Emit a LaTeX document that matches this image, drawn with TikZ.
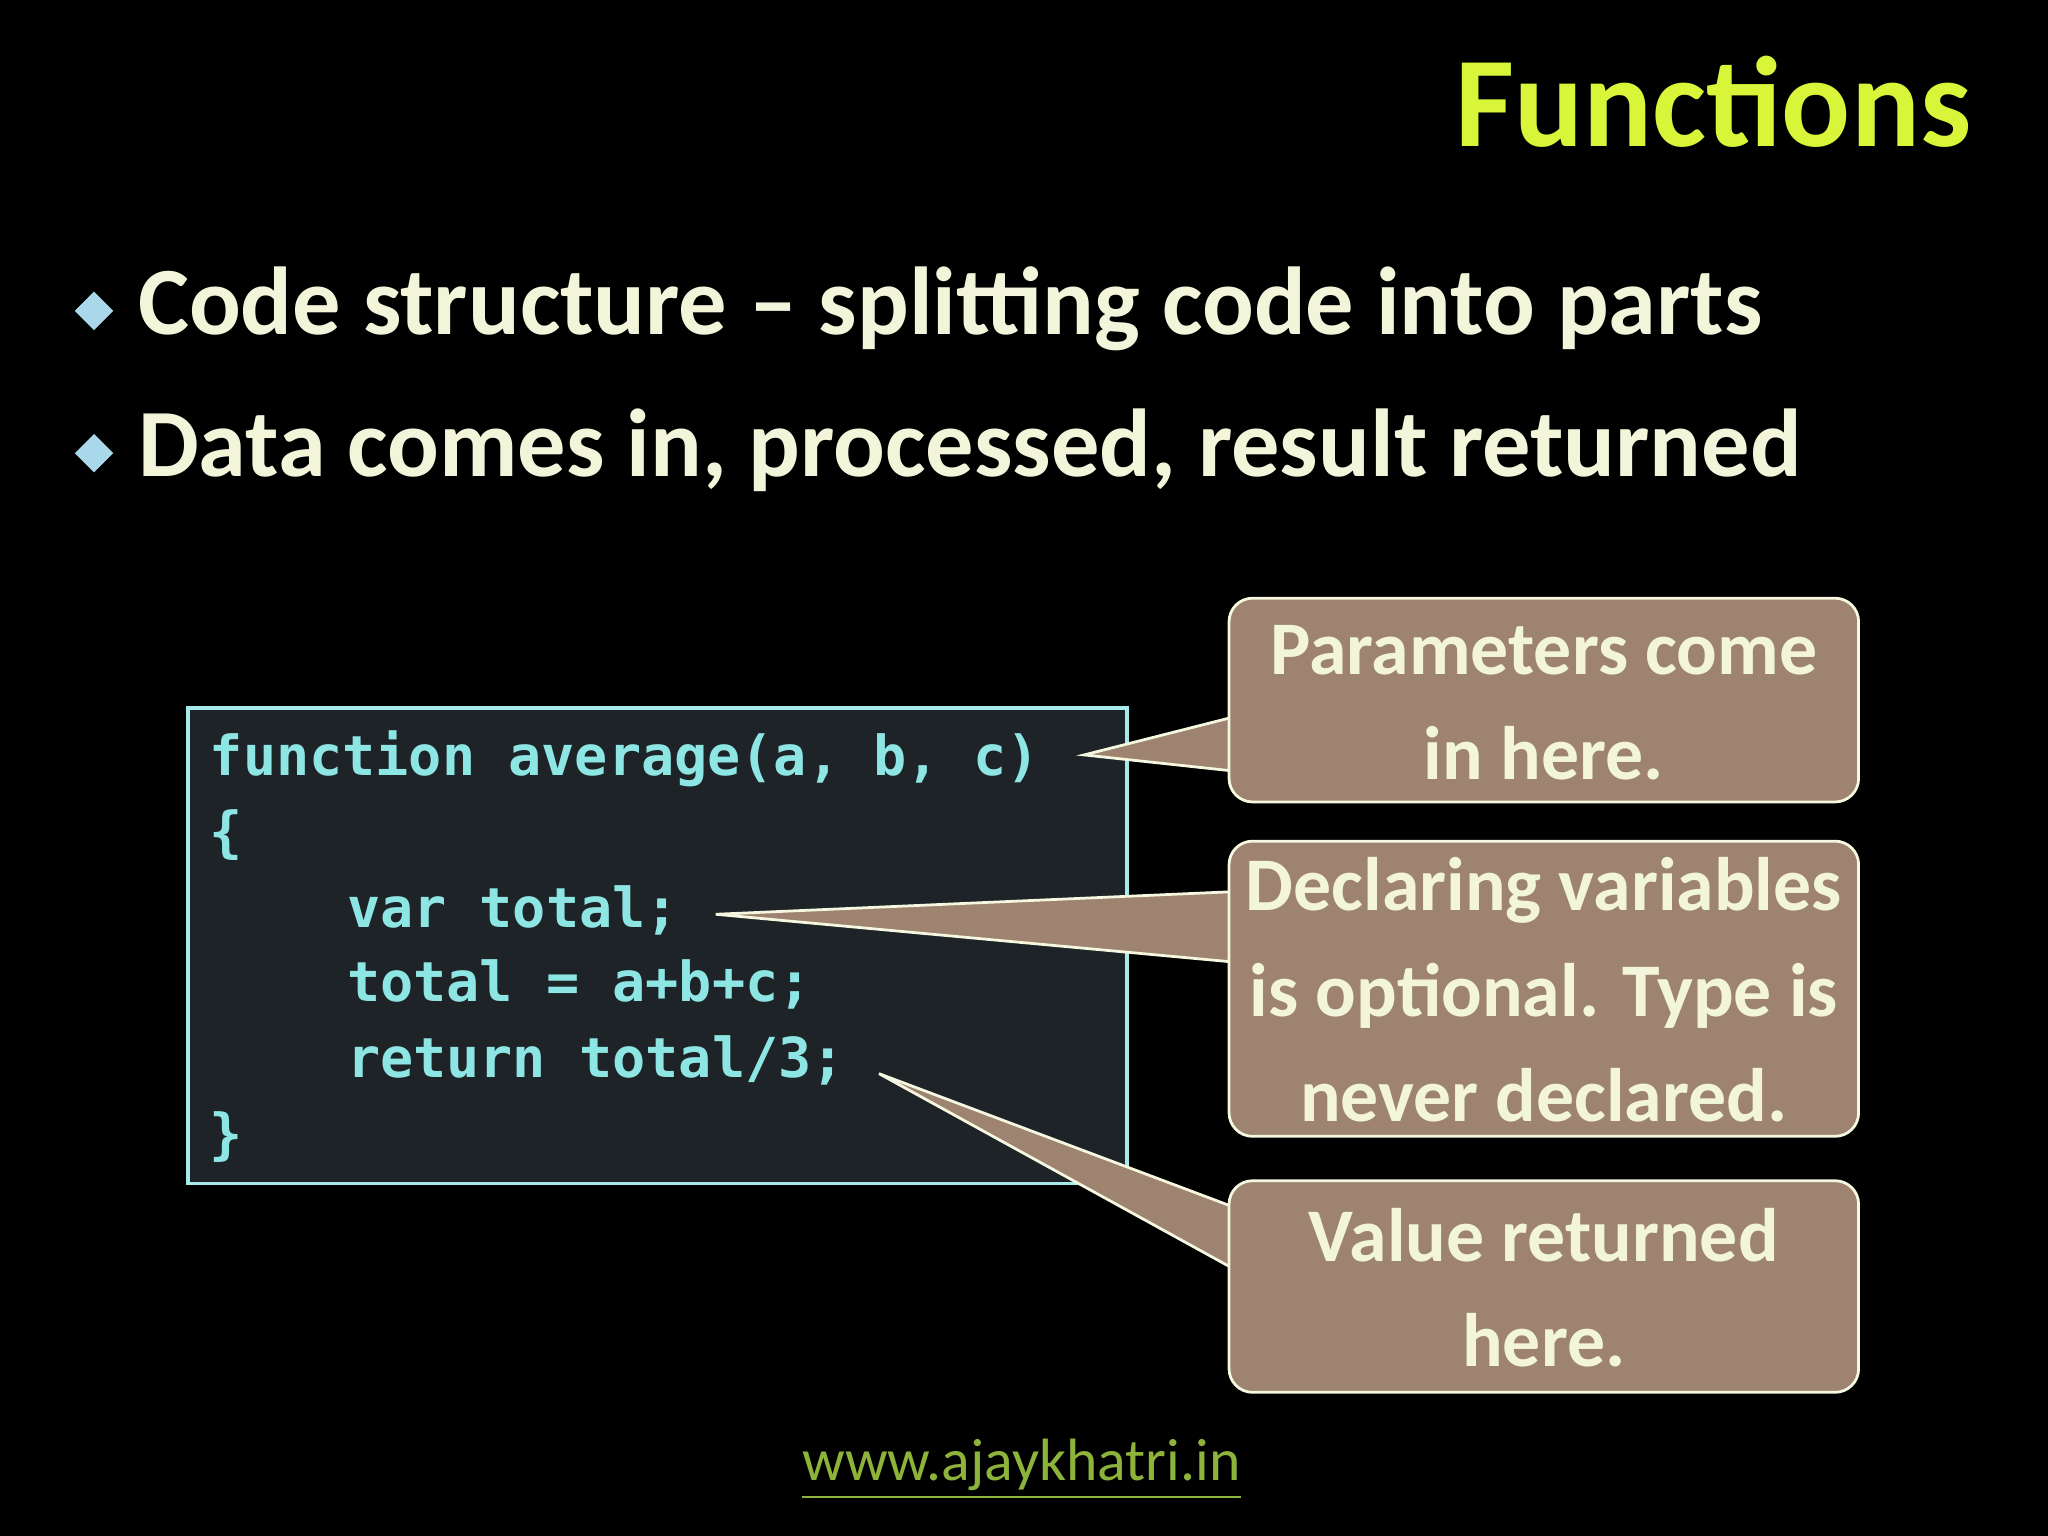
\documentclass[tikz,border=0pt]{standalone}
\usepackage{fontspec}
\setmainfont{Carlito}
\setmonofont{DejaVu Sans Mono}
\usetikzlibrary{positioning,shapes.geometric}
\definecolor{titlecol}{HTML}{D8F53A}
\definecolor{textcol}{HTML}{F2F5DA}
\definecolor{bulletcol}{HTML}{A8D8EA}
\definecolor{codecol}{HTML}{8EE6E4}
\definecolor{codebg}{HTML}{1D2326}
\definecolor{callfill}{HTML}{9E8470}
\definecolor{linkcol}{HTML}{8DB33A}
\begin{document}
\begin{tikzpicture}[x=0.01cm,y=-0.01cm]
	\tikzset{bulletmark/.style={diamond,fill=bulletcol,inner sep=0pt,minimum size=20pt*0.01/0.0352},
		bullettext/.style={anchor=base west,text=textcol,font=\fontsize{21}{24}\selectfont\bfseries,inner sep=0pt},
		codeline/.style={anchor=base west,text=codecol,font=\fontsize{12}{14}\selectfont\ttfamily\bfseries,inner sep=0pt},
		callbox/.style={draw=textcol!80,line width=0.6pt,fill=callfill,rounded corners=18pt*0.01/0.0352},
		calltext/.style={text=textcol,font=\fontsize{16.5}{23}\selectfont\bfseries,align=center},}
	\fill[black] (0,0) rectangle (1568,1176);
	\useasboundingbox (0,0) rectangle (1568,1176);
	
	% title and bullets
	\node[anchor=base east,text=titlecol,font=\fontsize{28}{30}\selectfont\bfseries,inner sep=0pt] (title) at (1510,112) {Functions};
	\node[diamond,fill=bulletcol,inner sep=0pt,minimum size=0.3cm] (b1) at (72,238) {};
	\node[bullettext] (t1) at (105,256) {Code structure -- splitting code into parts};
	\node[diamond,fill=bulletcol,inner sep=0pt,minimum size=0.3cm] (b2) at (72,347) {};
	\node[bullettext] (t2) at (105,365) {Data comes in, processed, result returned};
	
	% code box
	\draw[draw=codecol!80,line width=0.8pt,fill=codebg] (144,542) rectangle (863,906);
	\node[codeline] (c1) at (160,594) {function average(a, b, c)};
	\node[codeline] (c2) at (160,652) {\{};
	\node[codeline] (c3) at (265,710) {var total;};
	\node[codeline] (c4) at (265,767) {total = a+b+c;};
	\node[codeline] (c5) at (265,825) {return total/3;};
	\node[codeline] (c6) at (160,883) {\}};
	\coordinate (p1) at (830,578);
	\coordinate (p2) at (548,700);
	\coordinate (p3) at (673,822);
	
	% callouts
	\draw[draw=textcol!80,line width=0.6pt,fill=callfill] (p1) -- (960,545) -- (960,592) -- cycle;
	\draw[draw=textcol!80,line width=0.6pt,fill=callfill] (p2) -- (960,682) -- (960,738) -- cycle;
	\draw[draw=textcol!80,line width=0.6pt,fill=callfill] (p3) -- (960,930) -- (960,980) -- cycle;
	\draw[callbox] (941,458) rectangle (1423,614);
	\draw[callbox] (941,644) rectangle (1423,870);
	\draw[callbox] (941,904) rectangle (1423,1066);
	\node[calltext] (k1) at (1182,538) {Parameters come\\in here.};
	\node[calltext] (k2) at (1182,758) {Declaring variables\\is optional. Type is\\never declared.};
	\node[calltext] (k3) at (1182,986) {Value returned\\here.};
	
	% footer
	\node[text=linkcol,font=\fontsize{13}{15}\selectfont] (url) at (782,1125) {\underline{www.ajaykhatri.in}};
\end{tikzpicture}
\end{document}
